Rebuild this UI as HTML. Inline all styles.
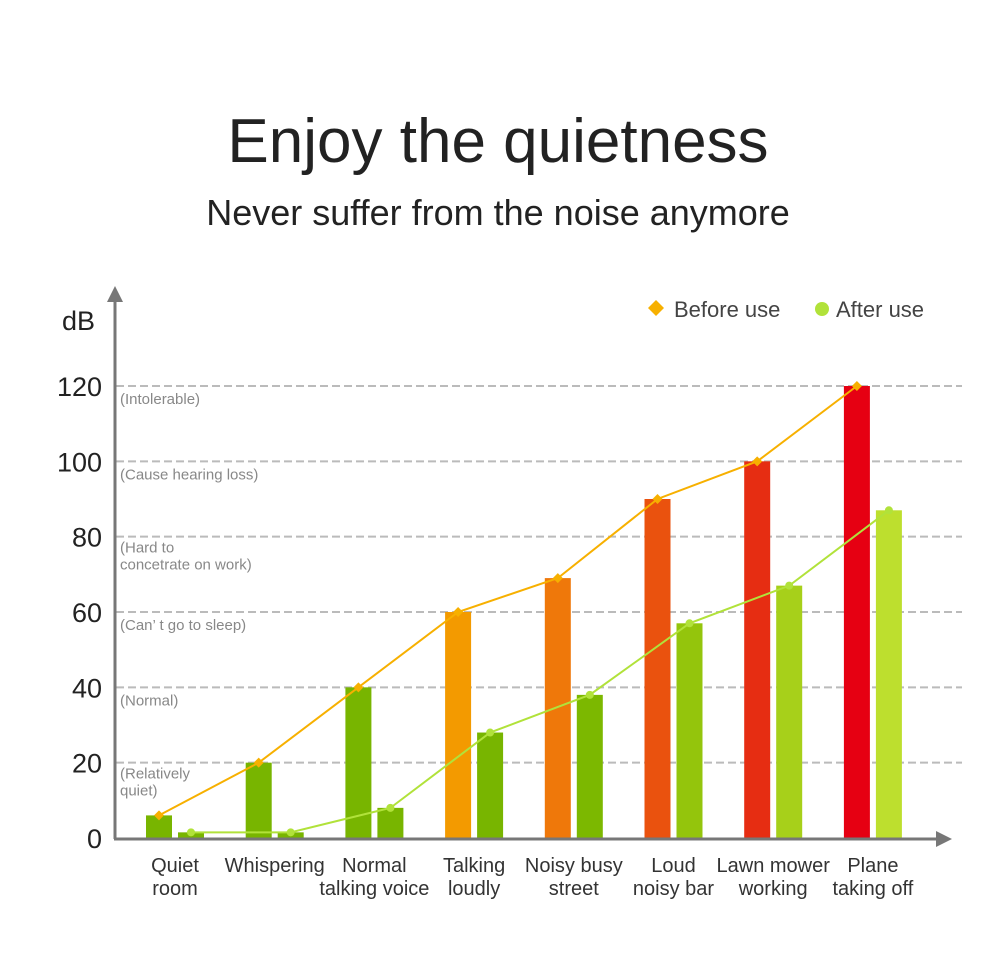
<!DOCTYPE html>
<html><head><meta charset="utf-8"><style>
body{margin:0;background:#fff;}
svg{display:block;font-family:"Liberation Sans",sans-serif;}
</style></head><body>
<svg id="chart" width="1000" height="953" viewBox="0 0 1000 953">
<text x="498" y="162" text-anchor="middle" font-size="62" fill="#222">Enjoy the quietness</text>
<text x="498" y="225" text-anchor="middle" font-size="36" fill="#222">Never suffer from the noise anymore</text>
<g>
<g><polygon points="656,300 664,308 656,316 648,308" fill="#f7b000"/><text x="674" y="317" font-size="22" fill="#444">Before use</text></g>
<g><circle cx="822" cy="309" r="7" fill="#b1e23a"/><text x="836" y="317" font-size="22" fill="#444">After use</text></g>
</g>
<g id="grid"></g><g id="bars"></g><g id="lines"></g><g id="axes"></g>
</svg>
<script>
const categories=[["Quiet","room"],["Whispering",""],["Normal","talking voice"],["Talking","loudly"],["Noisy busy","street"],["Loud","noisy bar"],["Lawn mower","working"],["Plane","taking off"]];
const beforeValues=[6,20,40,60,69,90,100,120];
const afterValues=[1.5,1.5,8,28,38,57,67,87];
const yTicks=[0,20,40,60,80,100,120];
const yNotes=[["(Relatively","quiet)"],["(Normal)"],["(Can’ t go to sleep)"],["(Hard to","concetrate on work)"],["(Cause hearing loss)"],["(Intolerable)"]];
const beforeColors=["#78b500","#78b500","#78b500","#f39a00","#ef780a","#ea520e","#e62d12","#e60012"];
const afterColors=["#78b500","#78b500","#78b500","#78b500","#7cb800","#94c50c","#a7d01a","#bddf2e"];
const NS="http://www.w3.org/2000/svg";
const y0=838,yTop=386,vMax=120;
const y=v=>y0-(v/vMax)*(y0-yTop);
const cx=i=>175+i*99.7;
function mk(tag,attrs,parent){const e=document.createElementNS(NS,tag);for(const k in attrs)e.setAttribute(k,attrs[k]);parent.appendChild(e);return e;}
const grid=document.getElementById('grid'),bars=document.getElementById('bars'),lines=document.getElementById('lines'),axes=document.getElementById('axes');
yTicks.forEach((t,i)=>{
  if(t>0){const l=mk('line',{x1:116,x2:962,y1:y(t),y2:y(t),stroke:'#bbb','stroke-width':2,'stroke-dasharray':'8 4'},grid);
  
  }
  const tx=mk('text',{x:102,y:y(t)+10,'text-anchor':'end','font-size':27,fill:'#222'},axes);tx.textContent=t;
  
  
  if(t>0){const note=yNotes[i-1];
    note.forEach((s,j)=>{const n=mk('text',{x:120,y:(note.length>1?y(t)+16:y(t)+18)+j*17,'font-size':15,fill:'#888'},axes);n.textContent=s;
    
    });}
});
const dB=mk('text',{x:62,y:330,'font-size':27,fill:'#222'},axes);dB.textContent='dB';


categories.forEach((c,i)=>{
  const b=mk('rect',{x:cx(i)-29,y:y(beforeValues[i]),width:26,height:y0-y(beforeValues[i]),fill:beforeColors[i]},bars);
  
  
  const a=mk('rect',{x:cx(i)+3,y:y(afterValues[i]),width:26,height:y0-y(afterValues[i]),fill:afterColors[i]},bars);
  
  
  c.forEach((s,j)=>{if(!s)return;const t=mk('text',{x:cx(i),y:872+j*23,'text-anchor':'middle','font-size':20,fill:'#333'},axes);t.textContent=s;
  
  });
});
const bp=beforeValues.map((v,i)=>(cx(i)-16)+','+y(v)).join(' ');
const bl=mk('polyline',{points:bp,fill:'none',stroke:'#f7b000','stroke-width':2},lines);


beforeValues.forEach((v,i)=>{const m=mk('polygon',{points:`${cx(i)-16},${y(v)-5} ${cx(i)-11},${y(v)} ${cx(i)-16},${y(v)+5} ${cx(i)-21},${y(v)}`,fill:'#f7b000'},lines);

});
const ap=afterValues.map((v,i)=>(cx(i)+16)+','+y(v)).join(' ');
const al=mk('polyline',{points:ap,fill:'none',stroke:'#b1e23a','stroke-width':2},lines);


afterValues.forEach((v,i)=>{const m=mk('circle',{cx:cx(i)+16,cy:y(v),r:4,fill:'#b1e23a'},lines);

});
const ya=mk('line',{x1:115,x2:115,y1:298,y2:839,stroke:'#777','stroke-width':3},axes);


const yh=mk('polygon',{points:'115,286 107,302 123,302',fill:'#777'},axes);


const xa=mk('line',{x1:114,x2:940,y1:839,y2:839,stroke:'#777','stroke-width':3},axes);


const xh=mk('polygon',{points:'952,839 936,831 936,847',fill:'#777'},axes);


</script>
</body></html>
